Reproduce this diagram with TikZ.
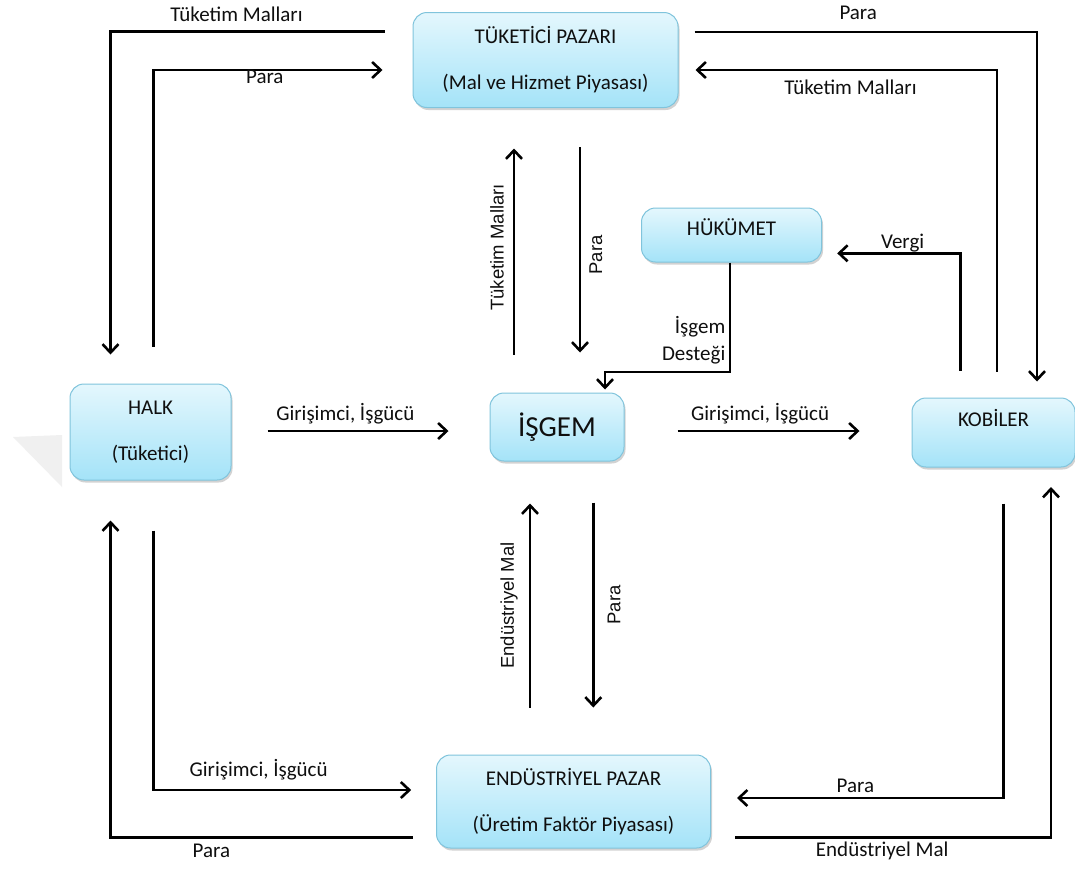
\documentclass[tikz,border=0pt]{standalone}
\usepackage{fontspec}
\setmainfont{Carlito}
\newfontfamily\arialfont{Liberation Sans}
\usepackage{xcolor}
\usetikzlibrary{arrows.meta,shadows}
\definecolor{boxtop}{RGB}{228,247,253}
\definecolor{boxbottom}{RGB}{164,227,248}
\definecolor{boxline}{RGB}{128,196,220}
\definecolor{textdark}{RGB}{15,15,15}

\begin{document}
\begin{tikzpicture}[x=1pt, y=-1pt,
    every node/.style={font=\fontsize{21}{25}\selectfont, text=textdark},
    block/.style={rectangle, draw=boxline, line width=1pt, rounded corners=14pt, top color=boxtop, bottom color=boxbottom, align=center, drop shadow={shadow xshift=1.5pt, shadow yshift=-2.5pt, opacity=0.35}},
    flow/.style={line width=2.6pt, -{Straight Barb[length=8.5pt,width=16pt]}},
    vlabel/.style={font=\arialfont\fontsize{18.5}{22}\selectfont, rotate=90}
]
    \path[use as bounding box, fill=white] (0,0) rectangle (1075,868);
    \fill[black!6] (13,437) -- (62,435) -- (62,487) -- cycle;

    \node[block, minimum width=265pt, minimum height=95pt] (tuketici) at (545.5,60) {TÜKETİCİ PAZARI\\[21pt](Mal ve Hizmet Piyasası)};
    \node[block, minimum width=180pt, minimum height=54pt, text depth=15pt] (hukumet) at (731.5,235) {HÜKÜMET};
    \node[block, minimum width=161pt, minimum height=96pt] (halk) at (150.5,432) {HALK\\[21pt](Tüketici)};
    \node[block, minimum width=134pt, minimum height=68pt, font=\fontsize{29}{34}\selectfont] (isgem) at (557,427) {İŞGEM};
    \node[block, minimum width=163pt, minimum height=69pt, text depth=29pt] (kobiler) at (993.5,432.5) {KOBİLER};
    \node[block, minimum width=274pt, minimum height=93pt] (endustri) at (573.5,801.5) {ENDÜSTRİYEL PAZAR\\[21pt](Üretim Faktör Piyasası)};

    \draw[flow] ([xshift=-28pt,yshift=28.3pt]tuketici.west) -| ([xshift=-40pt,yshift=29pt]halk.north)
        node[pos=0.27, above=5pt] {Tüketim Malları};
    \draw[flow] ([xshift=3pt,yshift=37pt]halk.north) |- ([xshift=-30pt,yshift=-10pt]tuketici.west)
        node[pos=0.743, below=-5pt] {Para};
    \draw[flow] ([xshift=16pt,yshift=28pt]tuketici.east) -| ([xshift=43.5pt,yshift=16pt]kobiler.north)
        node[pos=0.239, above=8pt] {Para};
    \draw[flow] ([xshift=3.5pt,yshift=26pt]kobiler.north) |- ([xshift=17pt,yshift=-10pt]tuketici.east)
        node[pos=0.743, below=5pt] {Tüketim Malları};

    \draw[flow] ([xshift=-43pt,yshift=38pt]isgem.north) -- ([xshift=-31.5pt,yshift=-40.5pt]tuketici.south)
        node[pos=0.52, vlabel, anchor=south, inner sep=9pt] {Tüketim Malları};
    \draw[flow] ([xshift=34.5pt,yshift=-39pt]tuketici.south) -- ([xshift=23pt,yshift=40pt]isgem.north)
        node[pos=0.525, vlabel, anchor=north, inner sep=8pt] {Para};

    \draw[flow] ([xshift=-1.5pt]hukumet.south) |- ([xshift=48pt,yshift=20.5pt]isgem.north)
        node[pos=0.355, left, align=right, font=\fontsize{21}{27}\selectfont] {İşgem\\Desteği}
        -- ([xshift=48pt,yshift=3pt]isgem.north);
    \draw[flow] ([xshift=-32.8pt,yshift=27pt]kobiler.north) |- ([xshift=15.2pt,yshift=-18.3pt]hukumet.east)
        node[pos=0.735, above=-3pt] {Vergi};

    \draw[flow] ([xshift=36pt,yshift=1pt]halk.east) -- ([xshift=-41pt,yshift=-4pt]isgem.west)
        node[pos=0.43, above=2pt] {Girişimci, İşgücü};
    \draw[flow] ([xshift=53pt,yshift=-4pt]isgem.east) -- ([xshift=-52pt,yshift=1.5pt]kobiler.west)
        node[pos=0.454, above=2pt] {Girişimci, İşgücü};

    \draw[flow] ([xshift=-43.5pt,yshift=47pt]endustri.north) -- ([xshift=-27pt,yshift=-42pt]isgem.south)
        node[midway, vlabel, anchor=south, inner sep=11pt] {Endüstriyel Mal};
    \draw[flow] ([xshift=36.3pt,yshift=-41pt]isgem.south) -- ([xshift=19.8pt,yshift=47pt]endustri.north)
        node[midway, vlabel, anchor=north, inner sep=13pt] {Para};

    \draw[flow] ([xshift=-23.5pt,yshift=-36pt]endustri.west) -| ([xshift=-40pt,yshift=-40pt]halk.south)
        node[pos=0.333, below=2pt] {Para};
    \draw[flow] ([xshift=3pt,yshift=-50pt]halk.south) |- ([xshift=-24.8pt,yshift=11.5pt]endustri.west)
        node[pos=0.704, above=5pt] {Girişimci, İşgücü};
    \draw[flow] ([xshift=10pt,yshift=-36pt]kobiler.south) |- ([xshift=26pt,yshift=3.5pt]endustri.east)
        node[pos=0.778, above=1pt] {Para};
    \draw[flow] ([xshift=24pt,yshift=-36pt]endustri.east) -| ([xshift=57.5pt,yshift=-19.5pt]kobiler.south)
        node[pos=0.233, below=0pt] {Endüstriyel Mal};
\end{tikzpicture}
\end{document}
